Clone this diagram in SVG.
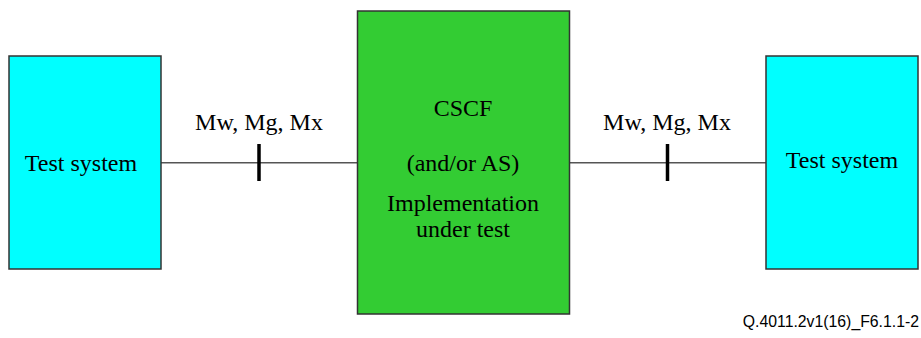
<svg xmlns="http://www.w3.org/2000/svg" width="921" height="338" viewBox="0 0 921 338">
<style>
.box{stroke:#333;stroke-width:1.5}
.ts{fill:#00ffff}
.iut{fill:#33cc33}
.t{font-family:"Liberation Serif","Times New Roman",serif;font-size:24px;fill:#000;text-anchor:middle}
.ln{stroke:#555;stroke-width:1.5;fill:none}
.tick{stroke:#000;stroke-width:3.5}
.ref{font-family:"Liberation Sans",Arial,sans-serif;font-size:15.8px;fill:#000;text-anchor:end}
</style>
<rect width="921" height="338" fill="#fff"/>
<g id="connectors">
<line class="ln" x1="161" y1="162.7" x2="357" y2="162.7"/>
<line class="tick" x1="259" y1="144" x2="259" y2="181"/>
<text class="t" x="259" y="130">Mw, Mg, Mx</text>
<line class="ln" x1="569" y1="162.7" x2="766" y2="162.7"/>
<line class="tick" x1="667.5" y1="144" x2="667.5" y2="181"/>
<text class="t" x="667" y="130">Mw, Mg, Mx</text>
</g>
<g id="test-system-left">
<rect class="box ts" x="9" y="56" width="152" height="213"/>
<text class="t" x="81" y="171">Test system</text>
</g>
<g id="iut">
<rect class="box iut" x="357.5" y="11" width="212" height="303"/>
<text class="t" x="463" y="116">CSCF</text>
<text class="t" x="463" y="171">(and/or AS)</text>
<text class="t" x="463" y="211">Implementation</text>
<text class="t" x="463" y="237">under test</text>
</g>
<g id="test-system-right">
<rect class="box ts" x="766" y="56" width="152" height="213"/>
<text class="t" x="842" y="168">Test system</text>
</g>
<text class="ref" x="919" y="327">Q.4011.2v1(16)_F6.1.1-2</text>
</svg>
